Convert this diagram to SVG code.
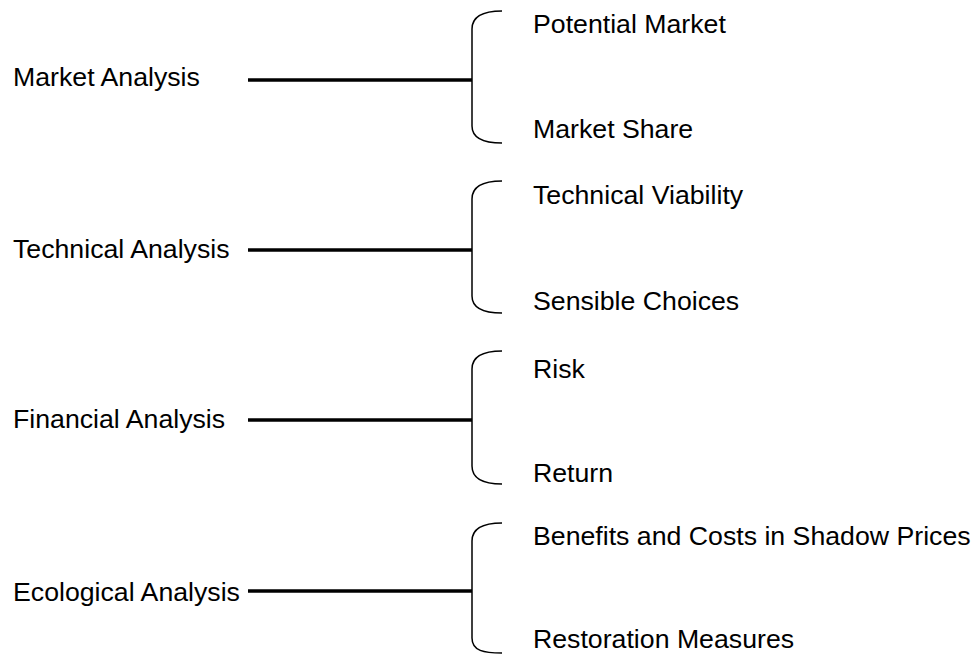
<svg xmlns="http://www.w3.org/2000/svg" width="976" height="657" viewBox="0 0 976 657">
<style>
text{font-family:"Liberation Sans",Arial,sans-serif;font-size:26.7px;fill:#000}
.conn{stroke:#000;stroke-width:3.5;fill:none}
.brace{stroke:#000;stroke-width:1.5;fill:none}
</style>
<rect width="976" height="657" fill="#fff"/>
<g id="market">
<text x="13" y="86">Market Analysis</text>
<path class="brace" d="M502,11 C484,11 472,16 472,29 L472,126 C472,139 484,143 502,143"/>
<text x="533" y="33">Potential Market</text>
<text x="533" y="138">Market Share</text>
</g>
<g id="technical">
<text x="13" y="258">Technical Analysis</text>
<path class="brace" d="M502,181 C484,181 472,186 472,199 L472,296 C472,309 484,313 502,313"/>
<text x="533" y="204">Technical Viability</text>
<text x="533" y="310">Sensible Choices</text>
</g>
<g id="financial">
<text x="13" y="428">Financial Analysis</text>
<path class="brace" d="M502,351 C484,351 472,356 472,369 L472,466 C472,479 484,484 502,484"/>
<text x="533" y="378">Risk</text>
<text x="533" y="482">Return</text>
</g>
<g id="ecological">
<text x="13" y="601">Ecological Analysis</text>
<path class="brace" d="M502,523 C484,523 472,528 472,541 L472,638 C472,651 484,653 502,653"/>
<text x="533" y="545">Benefits and Costs in Shadow Prices</text>
<text x="533" y="648">Restoration Measures</text>
</g>
<g id="connectors">
<line class="conn" x1="248" y1="80" x2="472" y2="80"/>
<line class="conn" x1="248" y1="250" x2="472" y2="250"/>
<line class="conn" x1="248" y1="420" x2="472" y2="420"/>
<line class="conn" x1="248" y1="591" x2="472" y2="591"/>
</g>
</svg>
